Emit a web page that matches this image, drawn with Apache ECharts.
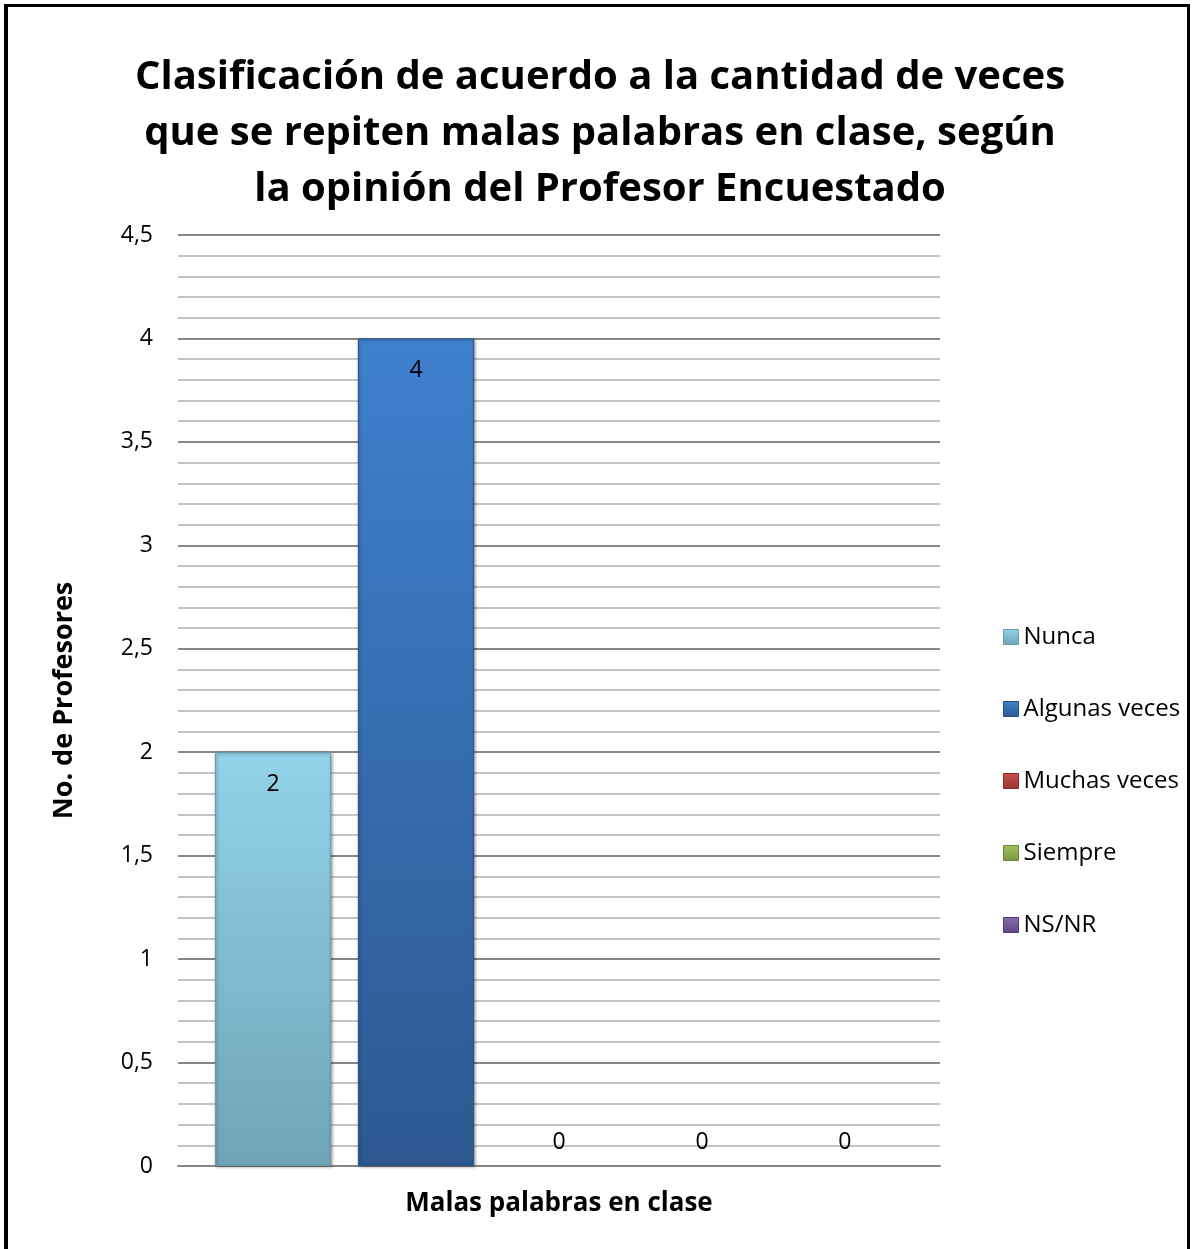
<!DOCTYPE html>
<html>
<head>
<meta charset="utf-8">
<script src="https://cdn.jsdelivr.net/npm/echarts@6/dist/echarts.min.js"></script>
<style>
html,body{margin:0;padding:0;background:#fff;}
#wrap{position:relative;width:1193px;height:1249px;}
#chart{position:absolute;left:0;top:0;width:1193px;height:1249px;}
#frame{position:absolute;left:4px;top:4px;width:1186px;height:1260px;border-left:4px solid #000;border-top:3px solid #000;border-right:3px solid #000;box-sizing:border-box;pointer-events:none;}
</style>
</head>
<body>
<div id="wrap"><div id="chart"></div><div id="frame"></div></div>
<script>
const titleText = 'Clasificación de acuerdo a la cantidad de veces\nque se repiten malas palabras en clase, según\nla opinión del Profesor Encuestado';
const categories = ['Malas palabras en clase'];
const seriesNames = ['Nunca', 'Algunas veces', 'Muchas veces', 'Siempre', 'NS/NR'];
const seriesValues = [2, 4, 0, 0, 0];
const yTicks = [0, 0.5, 1, 1.5, 2, 2.5, 3, 3.5, 4, 4.5];
const yAxisTitle = 'No. de Profesores';

const FONT = '"Open Sans", Lato, sans-serif';
const palette = [
  ['#92d3ea', '#6ea4b6', '#6a9aab'],
  ['#3f80cf', '#2c5990', '#2a5384'],
  ['#c9504c', '#9a3432', '#8a302e'],
  ['#a3c35e', '#7c963f', '#6f873a'],
  ['#8a6bb0', '#5f4882', '#553f75']
];
const grad = i => new echarts.graphic.LinearGradient(0, 0, 0, 1, [
  {offset: 0, color: palette[i][0]},
  {offset: 1, color: palette[i][1]}
]);

const chart = echarts.init(document.getElementById('chart'), null, {renderer: 'canvas'});
const series = seriesNames.map((name, i) => {
  const nonZero = seriesValues[i] > 0;
  return {
    name: name,
    type: 'bar',
    data: [seriesValues[i]],
    barGap: '23%',
    barCategoryGap: '9.7%',
    itemStyle: {
      color: grad(i),
      borderColor: palette[i][2],
      borderWidth: nonZero ? 1 : 0,
      shadowColor: 'rgba(0,0,0,0.35)',
      shadowBlur: nonZero ? 3 : 0,
      shadowOffsetX: nonZero ? 1 : 0,
      shadowOffsetY: nonZero ? 1 : 0
    },
    label: {
      show: true,
      position: nonZero ? 'insideTop' : 'top',
      distance: nonZero ? 21 : 12,
      color: '#000',
      fontSize: 23,
      fontFamily: FONT
    }
  };
});

chart.setOption({
  animation: false,
  backgroundColor: '#fff',
  title: {
    text: titleText,
    left: 595,
    top: 45,
    textAlign: 'center',
    textStyle: {
      fontFamily: FONT,
      fontWeight: 'bold',
      fontSize: 40,
      lineHeight: 56,
      color: '#000'
    }
  },
  legend: {
    orient: 'vertical',
    left: 998,
    top: 620,
    itemGap: 48,
    itemWidth: 15,
    itemHeight: 15,
    icon: 'rect',
    data: seriesNames.map((n, i) => ({
      name: n,
      itemStyle: {color: grad(i), borderColor: palette[i][2], borderWidth: 1, shadowBlur: 0, shadowOffsetX: 0, shadowOffsetY: 0}
    })),
    textStyle: {fontSize: 24, lineHeight: 24, color: '#000', fontFamily: FONT, padding: [0, 0, 0, 0]}
  },
  grid: {left: 178, right: 253, top: 235, bottom: 83, containLabel: false},
  xAxis: {
    type: 'category',
    data: categories,
    axisLine: {lineStyle: {color: '#868686', width: 2}},
    axisTick: {show: false},
    axisLabel: {
      fontSize: 26,
      fontWeight: 'bold',
      color: '#000',
      margin: 25,
      fontFamily: FONT
    }
  },
  yAxis: {
    type: 'value',
    min: yTicks[0],
    max: yTicks[yTicks.length - 1],
    interval: 0.5,
    name: yAxisTitle,
    nameLocation: 'middle',
    nameGap: 100,
    nameRotate: 90,
    nameTextStyle: {fontSize: 27, fontWeight: 'bold', color: '#000', fontFamily: FONT},
    axisLine: {show: false},
    axisTick: {show: false},
    axisLabel: {
      fontSize: 23,
      color: '#000',
      margin: 25,
      fontFamily: FONT,
      formatter: v => String(v).replace('.', ',')
    },
    splitLine: {lineStyle: {color: '#878787', width: 2}},
    minorTick: {show: false, splitNumber: 5},
    minorSplitLine: {show: true, lineStyle: {color: '#c4c4c4', width: 2}}
  },
  series: series
});
</script>
</body>
</html>
